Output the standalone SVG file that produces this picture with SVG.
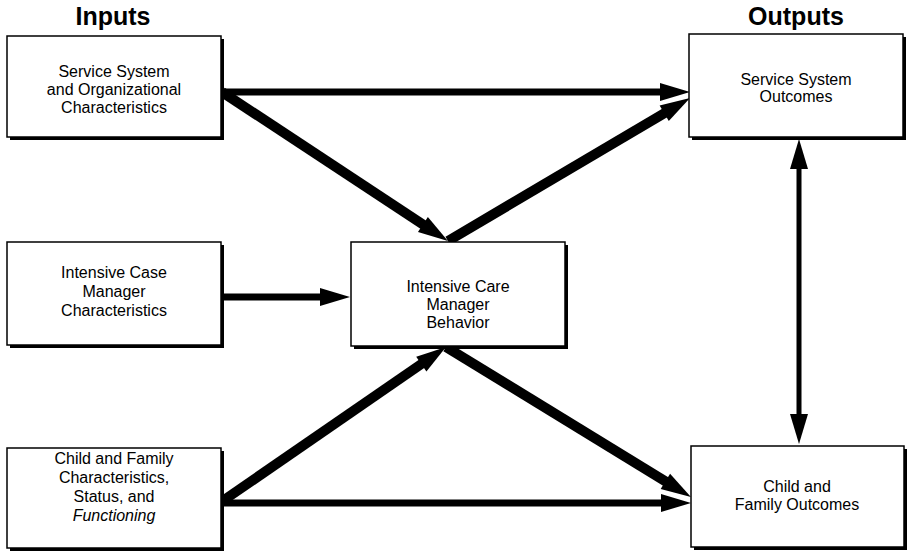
<svg xmlns="http://www.w3.org/2000/svg" width="914" height="555" viewBox="0 0 914 555">
<style>
.sh{fill:#000}
.bx{fill:#fff;stroke:#000;stroke-width:1.5}
.t{font-family:"Liberation Sans",Arial,sans-serif;font-size:16px;fill:#000;text-anchor:middle}
.h{font-family:"Liberation Sans",Arial,sans-serif;font-size:25px;font-weight:bold;fill:#000;text-anchor:middle}
.c{stroke:#000;fill:none}
.th{stroke-width:10}
.md{stroke-width:7}
.tn{stroke-width:5}
</style>
<defs>
<marker id="ah" markerUnits="userSpaceOnUse" markerWidth="30" markerHeight="18" refX="8" refY="9" orient="auto-start-reverse" overflow="visible">
<path d="M0,0 L30,9 L0,18 z" fill="#000"/>
</marker>
</defs>
<rect width="914" height="555" fill="#fff"/>
<text class="h" x="113" y="25">Inputs</text>
<text class="h" x="796" y="25">Outputs</text>

<g id="connectors">
<line class="c md" x1="222" y1="92" x2="668" y2="92" marker-end="url(#ah)"/>
<line class="c th" x1="222" y1="92" x2="429.6" y2="228.9" marker-end="url(#ah)"/>
<line class="c th" x1="448" y1="241" x2="671.1" y2="109.2" marker-end="url(#ah)"/>
<line class="c md" x1="222" y1="297" x2="328" y2="297" marker-end="url(#ah)"/>
<line class="c th" x1="224" y1="500" x2="427.9" y2="359.5" marker-end="url(#ah)"/>
<line class="c md" x1="224" y1="503" x2="669" y2="503" marker-end="url(#ah)"/>
<line class="c th" x1="446" y1="347" x2="672.2" y2="485.5" marker-end="url(#ah)"/>
<line class="c tn" x1="799" y1="161" x2="799" y2="422" marker-start="url(#ah)" marker-end="url(#ah)"/>
</g>

<g id="service-system">
<rect class="sh" x="10" y="39" width="214" height="101"/>
<rect class="bx" x="7" y="36" width="214" height="101"/>
<text class="t" x="114" y="77">Service System</text>
<text class="t" x="114" y="95">and Organizational</text>
<text class="t" x="114" y="113">Characteristics</text>
</g>

<g id="case-manager">
<rect class="sh" x="10" y="245" width="214" height="103"/>
<rect class="bx" x="7" y="242" width="214" height="103"/>
<text class="t" x="114" y="278">Intensive Case</text>
<text class="t" x="114" y="297">Manager</text>
<text class="t" x="114" y="316">Characteristics</text>
</g>

<g id="child-family">
<rect class="sh" x="10" y="451" width="214" height="100"/>
<rect class="bx" x="7" y="448" width="214" height="100"/>
<text class="t" x="114" y="464">Child and Family</text>
<text class="t" x="114" y="483">Characteristics,</text>
<text class="t" x="114" y="502">Status, and</text>
<text class="t" x="114" y="521" font-style="italic">Functioning</text>
</g>

<g id="care-manager-behavior">
<rect class="sh" x="354" y="245" width="214" height="104"/>
<rect class="bx" x="351" y="242" width="214" height="104"/>
<text class="t" x="458" y="292">Intensive Care</text>
<text class="t" x="458" y="310">Manager</text>
<text class="t" x="458" y="328">Behavior</text>
</g>

<g id="service-outcomes">
<rect class="sh" x="692" y="37" width="214" height="103"/>
<rect class="bx" x="689" y="34" width="214" height="103"/>
<text class="t" x="796" y="85">Service System</text>
<text class="t" x="796" y="102">Outcomes</text>
</g>

<g id="child-outcomes">
<rect class="sh" x="694" y="449" width="213" height="101"/>
<rect class="bx" x="691" y="446" width="213" height="101"/>
<text class="t" x="797" y="492">Child and</text>
<text class="t" x="797" y="510">Family Outcomes</text>
</g>
</svg>
